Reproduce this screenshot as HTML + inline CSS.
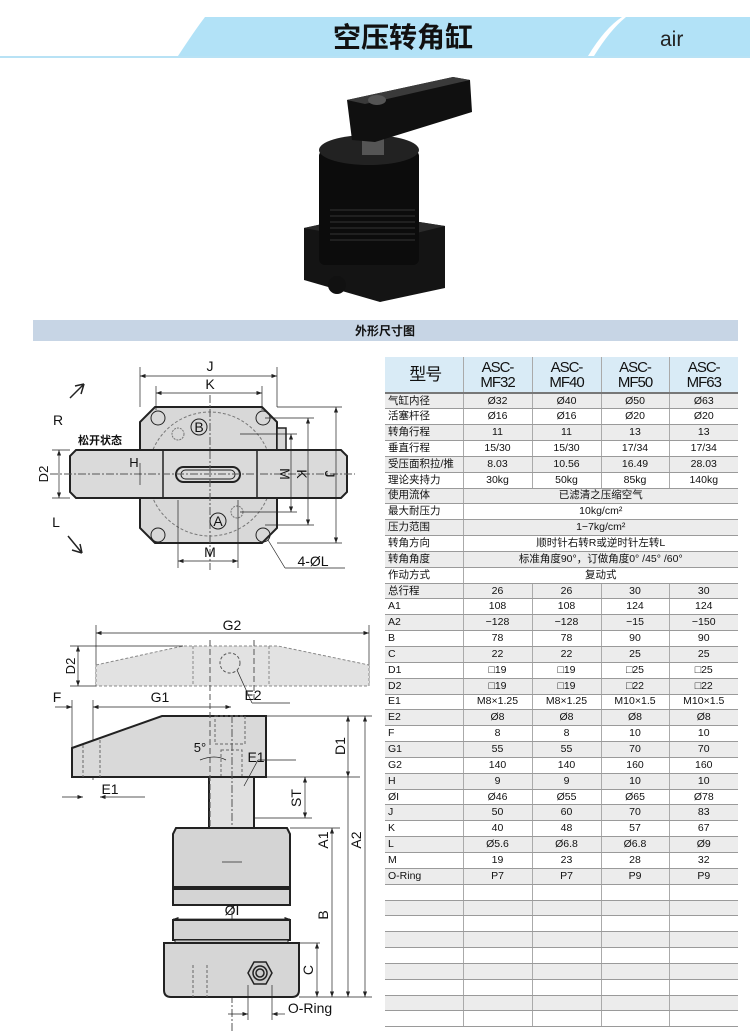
<!DOCTYPE html>
<html><head><meta charset="utf-8"><style>
body{margin:0;width:750px;height:1032px;background:#fff;position:relative;overflow:hidden;font-family:"Liberation Sans","Noto Sans CJK SC",sans-serif}
svg{position:absolute;left:0;top:0}
table{position:absolute;left:385px;top:357px;width:353px;height:670px;border-collapse:collapse;table-layout:fixed}
tr{height:15.85px}
td{padding:0;font-size:10.5px;text-align:center;border-bottom:1px solid #9a9a9a;border-left:1px solid #aaa;line-height:11px;color:#111;white-space:nowrap;overflow:hidden}
td:first-child{text-align:left;border-left:none;padding-left:3px}
tr:nth-child(even) td{background:#ececec}
tr.h{height:36px}
tr.h td{background:#d9ebf6;font-size:15px;line-height:15px;letter-spacing:-1px;border-bottom:2px solid #777}
tr.h td:first-child{text-align:center;font-size:17px}
</style></head><body>
<svg width="750" height="1032" viewBox="0 0 750 1032" font-family="Liberation Sans, Noto Sans CJK SC, sans-serif">
<defs><marker id="a" markerWidth="8" markerHeight="6" refX="8" refY="3" orient="auto-start-reverse"><path d="M0,0 L8,3 L0,6 z" fill="#222"/></marker></defs>
<line x1="0" y1="57" x2="750" y2="57" stroke="#b8e2f5" stroke-width="2"/>
<path d="M178,56 Q195,30 205,17 L750,17 L750,56 Z" fill="#b2e2f7"/>
<path d="M588,56 Q605,28 622,17 L626,17 Q610,30 594,56 Z" fill="#fff"/>
<text x="403" y="47" font-size="28" font-weight="bold" text-anchor="middle" fill="#111">空压转角缸</text>
<text x="660" y="46" font-size="21" fill="#222">air</text>
<g>
<path d="M304,228 L368,214 L445,226 L445,288 L380,302 L304,280 Z" fill="#141414"/>
<path d="M304,228 L368,214 L445,226 L380,242 Z" fill="#2a2a2a"/>
<rect x="319" y="150" width="100" height="115" rx="6" fill="#0c0c0c"/>
<ellipse cx="369" cy="150" rx="50" ry="15" fill="#222"/>
<g stroke="#333" stroke-width="1">
<line x1="330" y1="210" x2="415" y2="210"/><line x1="330" y1="216" x2="415" y2="216"/><line x1="330" y1="222" x2="415" y2="222"/><line x1="330" y1="228" x2="415" y2="228"/><line x1="330" y1="234" x2="415" y2="234"/><line x1="330" y1="240" x2="415" y2="240"/>
</g>
<rect x="362" y="130" width="22" height="25" fill="#555"/>
<path d="M347,100 L453,77 L470,80 L472,112 L375,142 L352,140 Z" fill="#101010"/>
<path d="M347,100 L453,77 L470,80 L365,104 Z" fill="#3a3a3a"/>
<ellipse cx="377" cy="100" rx="9" ry="5" fill="#555"/>
<circle cx="337" cy="285" r="9" fill="#111"/>
</g>
<rect x="33" y="320" width="705" height="21" fill="#c7d5e5"/>
<text x="385" y="335" font-size="12" font-weight="bold" text-anchor="middle" fill="#111">外形尺寸图</text>

<g stroke="#222" fill="none" stroke-width="1">
<path d="M155,407 L262,407 L277,422 L277,528 L262,543 L155,543 L140,528 L140,422 Z" fill="#d8d8d8" stroke-width="2"/>
<rect x="277" y="428" width="9" height="22" fill="#d8d8d8" stroke-width="1.5"/>
<circle cx="210" cy="474" r="62" stroke-dasharray="3,2" stroke="#777"/>
<circle cx="158" cy="418" r="7"/><circle cx="263" cy="418" r="7"/><circle cx="158" cy="535" r="7"/><circle cx="263" cy="535" r="7"/>
<circle cx="178" cy="434" r="6" stroke-dasharray="2,1" stroke="#777"/>
<circle cx="237" cy="512" r="6" stroke-dasharray="2,1" stroke="#777"/>
<path d="M76,450 L341,450 L347,456 L347,492 L341,498 L76,498 L70,492 L70,456 Z" fill="#dadada" stroke-width="2"/>
<line x1="163" y1="450" x2="163" y2="498" stroke-width="1.5"/>
<line x1="257" y1="450" x2="257" y2="498" stroke-width="1.5"/>
<rect x="176" y="467" width="64" height="15" rx="7.5" stroke-width="2"/>
<rect x="181" y="470" width="54" height="9" rx="4.5"/>
<line x1="210" y1="395" x2="210" y2="570" stroke-dasharray="8,2,2,2" stroke="#555"/>
<line x1="50" y1="474" x2="355" y2="474" stroke-dasharray="8,2,2,2" stroke="#555"/>
<line x1="140" y1="367" x2="140" y2="407" stroke-width=".7"/><line x1="277" y1="367" x2="277" y2="407" stroke-width=".7"/>
<line x1="140" y1="376" x2="277" y2="376" stroke-width=".7" marker-start="url(#a)" marker-end="url(#a)"/>
<line x1="156" y1="386" x2="156" y2="410" stroke-width=".7"/><line x1="262" y1="386" x2="262" y2="410" stroke-width=".7"/>
<line x1="156" y1="393" x2="262" y2="393" stroke-width=".7" marker-start="url(#a)" marker-end="url(#a)"/>
<line x1="178" y1="500" x2="178" y2="568" stroke-width=".7"/><line x1="238" y1="500" x2="238" y2="568" stroke-width=".7"/>
<line x1="178" y1="561" x2="238" y2="561" stroke-width=".7" marker-start="url(#a)" marker-end="url(#a)"/>
<line x1="277" y1="407" x2="342" y2="407" stroke-width=".7"/><line x1="277" y1="543" x2="342" y2="543" stroke-width=".7"/>
<line x1="336" y1="407" x2="336" y2="543" stroke-width=".7" marker-start="url(#a)" marker-end="url(#a)"/>
<line x1="265" y1="418" x2="314" y2="418" stroke-width=".7"/><line x1="265" y1="525" x2="314" y2="525" stroke-width=".7"/>
<line x1="308" y1="418" x2="308" y2="525" stroke-width=".7" marker-start="url(#a)" marker-end="url(#a)"/>
<line x1="240" y1="434" x2="297" y2="434" stroke-width=".7"/><line x1="240" y1="512" x2="297" y2="512" stroke-width=".7"/>
<line x1="291" y1="434" x2="291" y2="512" stroke-width=".7" marker-start="url(#a)" marker-end="url(#a)"/>
<line x1="52" y1="450" x2="70" y2="450" stroke-width=".7"/><line x1="52" y1="498" x2="70" y2="498" stroke-width=".7"/>
<line x1="59" y1="450" x2="59" y2="498" stroke-width=".7" marker-start="url(#a)" marker-end="url(#a)"/>
<line x1="140" y1="463" x2="140" y2="485" stroke-width=".7"/>
<line x1="268" y1="540" x2="285" y2="568" stroke-width=".7"/><line x1="285" y1="568" x2="345" y2="568" stroke-width=".7"/>
<path d="M70,398 L84,384 L81,394 M84,384 L75,386" stroke-width="1.5"/>
<path d="M68,536 L82,553 M82,553 L72,550 M82,553 L80,544" stroke-width="1.5"/>
</g>
<g font-size="14" fill="#111" text-anchor="middle">
<text x="210" y="371">J</text><text x="210" y="389">K</text><text x="210" y="557">M</text>
<text x="199" y="432">B</text><circle cx="199" cy="427" r="8" fill="none" stroke="#222"/>
<text x="218" y="526">A</text><circle cx="218" cy="521" r="8" fill="none" stroke="#222"/>
<text x="134" y="467" font-size="13">H</text>
<text x="58" y="425">R</text><text x="56" y="527">L</text>
<text x="100" y="444" font-size="11" font-weight="bold">松开状态</text>
<text x="313" y="566" font-size="14">4-ØL</text>
<text transform="translate(48,474) rotate(-90)" font-size="13">D2</text>
<text transform="translate(280,474) rotate(90)" font-size="14">M</text>
<text transform="translate(297,474) rotate(90)" font-size="14">K</text>
<text transform="translate(325,474) rotate(90)" font-size="14">J</text>
</g>

<g stroke="#222" fill="none" stroke-width="1">
<line x1="96" y1="625" x2="96" y2="686" stroke-width=".7"/><line x1="369" y1="625" x2="369" y2="686" stroke-width=".7"/>
<line x1="96" y1="633" x2="369" y2="633" stroke-width=".7" marker-start="url(#a)" marker-end="url(#a)"/>
<path d="M96,665 L183,646 L278,646 L369,665 L369,686 L96,686 Z" fill="#e2e2e2" stroke="#888" stroke-dasharray="3,2"/>
<line x1="70" y1="646" x2="183" y2="646" stroke-width=".7"/><line x1="70" y1="686" x2="96" y2="686" stroke-width=".7"/>
<line x1="78" y1="646" x2="78" y2="686" stroke-width=".7" marker-start="url(#a)" marker-end="url(#a)"/>
<line x1="193" y1="646" x2="193" y2="686" stroke="#888" stroke-dasharray="3,2"/><line x1="269" y1="646" x2="269" y2="686" stroke="#888" stroke-dasharray="3,2"/>
<circle cx="230" cy="663" r="10" stroke="#555" stroke-dasharray="3,2"/>
<line x1="237" y1="670" x2="252" y2="703" stroke-width=".7"/><line x1="252" y1="703" x2="290" y2="703" stroke-width=".7"/>
<line x1="72" y1="700" x2="72" y2="748" stroke-width=".7"/><line x1="93" y1="700" x2="93" y2="780" stroke-width=".7"/>
<line x1="55" y1="707" x2="72" y2="707" stroke-width=".7" marker-end="url(#a)"/>
<line x1="93" y1="707" x2="231" y2="707" stroke-width=".7" marker-start="url(#a)" marker-end="url(#a)"/>
<path d="M72,748 L162,716 L266,716 L266,777 L72,777 Z" fill="#d9d9d9" stroke-width="2"/>
<line x1="83" y1="745" x2="83" y2="777" stroke="#666" stroke-dasharray="3,2"/><line x1="100" y1="740" x2="100" y2="777" stroke="#666" stroke-dasharray="3,2"/>
<rect x="215" y="716" width="30" height="28" stroke="#666" stroke-dasharray="3,2"/>
<rect x="221" y="750" width="21" height="45" stroke="#666" stroke-dasharray="3,2"/>
<rect x="209" y="777" width="45" height="51" fill="#e0e0e0" stroke-width="2"/>
<line x1="210" y1="640" x2="210" y2="830" stroke="#555" stroke-dasharray="6,3"/>
<line x1="254" y1="640" x2="254" y2="700" stroke="#555" stroke-dasharray="6,3"/>
<line x1="232" y1="715" x2="232" y2="1032" stroke="#555" stroke-dasharray="8,2,2,2"/>
<path d="M176,828 L287,828 L290,834 L290,887 L173,887 L173,834 Z" fill="#d4d4d4" stroke-width="2"/>
<rect x="173" y="889" width="117" height="16" fill="#d4d4d4" stroke-width="2"/>
<rect x="173" y="920" width="117" height="20" fill="#d4d4d4" stroke-width="2"/>
<rect x="175" y="940" width="113" height="3" fill="#ccc"/>
<line x1="173" y1="919" x2="290" y2="919" stroke-width=".7" marker-start="url(#a)" marker-end="url(#a)"/>
<line x1="222" y1="862" x2="242" y2="862" stroke="#555"/>
<path d="M164,943 L299,943 L299,990 Q299,997 292,997 L171,997 Q164,997 164,990 Z" fill="#d6d6d6" stroke-width="2"/>
<path d="M248,973 L254,962 L266,962 L272,973 L266,984 L254,984 Z" fill="#ccc" stroke-width="1.5"/>
<circle cx="260" cy="973" r="7" stroke-width="1.5"/><circle cx="260" cy="973" r="4" stroke-width="1.5"/>
<line x1="193" y1="965" x2="193" y2="997" stroke="#666" stroke-dasharray="3,2"/><line x1="207" y1="965" x2="207" y2="997" stroke="#666" stroke-dasharray="3,2"/>
<line x1="248" y1="985" x2="248" y2="1020" stroke-width=".7"/><line x1="272" y1="985" x2="272" y2="1020" stroke-width=".7"/>
<line x1="228" y1="1014" x2="248" y2="1014" stroke-width=".7" marker-end="url(#a)"/><line x1="272" y1="1014" x2="285" y2="1014" stroke-width=".7" marker-start="url(#a)"/>
<line x1="266" y1="716" x2="372" y2="716" stroke-width=".7"/>
<line x1="266" y1="777" x2="360" y2="777" stroke-width=".7"/>
<line x1="254" y1="818" x2="312" y2="818" stroke-width=".7"/>
<line x1="290" y1="828" x2="340" y2="828" stroke-width=".7"/>
<line x1="299" y1="943" x2="320" y2="943" stroke-width=".7"/>
<line x1="299" y1="997" x2="372" y2="997" stroke-width=".7"/>
<line x1="348" y1="716" x2="348" y2="777" stroke-width=".7" marker-start="url(#a)" marker-end="url(#a)"/>
<line x1="348" y1="777" x2="348" y2="997" stroke-width=".7" marker-end="url(#a)"/>
<line x1="365" y1="716" x2="365" y2="997" stroke-width=".7" marker-start="url(#a)" marker-end="url(#a)"/>
<line x1="332" y1="828" x2="332" y2="997" stroke-width=".7" marker-start="url(#a)" marker-end="url(#a)"/>
<line x1="305" y1="777" x2="305" y2="818" stroke-width=".7" marker-start="url(#a)" marker-end="url(#a)"/>
<line x1="317" y1="943" x2="317" y2="997" stroke-width=".7" marker-start="url(#a)" marker-end="url(#a)"/>
<line x1="258" y1="760" x2="296" y2="760" stroke-width=".7"/><line x1="258" y1="760" x2="244" y2="786" stroke-width=".7"/>
<line x1="62" y1="797" x2="83" y2="797" stroke-width=".7" marker-end="url(#a)"/><line x1="100" y1="797" x2="145" y2="797" stroke-width=".7" marker-start="url(#a)"/>
<path d="M200,760 Q215,754 226,760" stroke-width=".8"/>
</g>
<g font-size="14" fill="#111" text-anchor="middle">
<text x="232" y="630">G2</text>
<text x="253" y="700">E2</text>
<text x="57" y="702">F</text><text x="160" y="702">G1</text>
<text x="200" y="752" font-size="13">5°</text>
<text x="256" y="762">E1</text>
<text x="110" y="794">E1</text>
<text x="232" y="915">ØI</text>
<text x="310" y="1013">O-Ring</text>
<text transform="translate(75,666) rotate(-90)" font-size="13">D2</text>
<text transform="translate(345,746) rotate(-90)">D1</text>
<text transform="translate(301,798) rotate(-90)">ST</text>
<text transform="translate(328,840) rotate(-90)">A1</text>
<text transform="translate(361,840) rotate(-90)">A2</text>
<text transform="translate(328,915) rotate(-90)">B</text>
<text transform="translate(313,970) rotate(-90)">C</text>
</g>
</svg>
<table>
<colgroup><col style="width:78px"><col style="width:69px"><col style="width:69px"><col style="width:68px"><col style="width:69px"></colgroup>
<tr class="h"><td>型号</td><td>ASC-<br>MF32</td><td>ASC-<br>MF40</td><td>ASC-<br>MF50</td><td>ASC-<br>MF63</td></tr>
<tr><td>气缸内径</td><td>Ø32</td><td>Ø40</td><td>Ø50</td><td>Ø63</td></tr>
<tr><td>活塞杆径</td><td>Ø16</td><td>Ø16</td><td>Ø20</td><td>Ø20</td></tr>
<tr><td>转角行程</td><td>11</td><td>11</td><td>13</td><td>13</td></tr>
<tr><td>垂直行程</td><td>15/30</td><td>15/30</td><td>17/34</td><td>17/34</td></tr>
<tr><td>受压面积拉/推</td><td>8.03</td><td>10.56</td><td>16.49</td><td>28.03</td></tr>
<tr><td>理论夹持力</td><td>30kg</td><td>50kg</td><td>85kg</td><td>140kg</td></tr>
<tr><td>使用流体</td><td colspan="4">已滤清之压缩空气</td></tr>
<tr><td>最大耐压力</td><td colspan="4">10kg/cm²</td></tr>
<tr><td>压力范围</td><td colspan="4">1−7kg/cm²</td></tr>
<tr><td>转角方向</td><td colspan="4">顺时针右转R或逆时针左转L</td></tr>
<tr><td>转角角度</td><td colspan="4">标准角度90°，订做角度0° /45° /60°</td></tr>
<tr><td>作动方式</td><td colspan="4">复动式</td></tr>
<tr><td>总行程</td><td>26</td><td>26</td><td>30</td><td>30</td></tr>
<tr><td>A1</td><td>108</td><td>108</td><td>124</td><td>124</td></tr>
<tr><td>A2</td><td>−128</td><td>−128</td><td>−15</td><td>−150</td></tr>
<tr><td>B</td><td>78</td><td>78</td><td>90</td><td>90</td></tr>
<tr><td>C</td><td>22</td><td>22</td><td>25</td><td>25</td></tr>
<tr><td>D1</td><td>□19</td><td>□19</td><td>□25</td><td>□25</td></tr>
<tr><td>D2</td><td>□19</td><td>□19</td><td>□22</td><td>□22</td></tr>
<tr><td>E1</td><td>M8×1.25</td><td>M8×1.25</td><td>M10×1.5</td><td>M10×1.5</td></tr>
<tr><td>E2</td><td>Ø8</td><td>Ø8</td><td>Ø8</td><td>Ø8</td></tr>
<tr><td>F</td><td>8</td><td>8</td><td>10</td><td>10</td></tr>
<tr><td>G1</td><td>55</td><td>55</td><td>70</td><td>70</td></tr>
<tr><td>G2</td><td>140</td><td>140</td><td>160</td><td>160</td></tr>
<tr><td>H</td><td>9</td><td>9</td><td>10</td><td>10</td></tr>
<tr><td>ØI</td><td>Ø46</td><td>Ø55</td><td>Ø65</td><td>Ø78</td></tr>
<tr><td>J</td><td>50</td><td>60</td><td>70</td><td>83</td></tr>
<tr><td>K</td><td>40</td><td>48</td><td>57</td><td>67</td></tr>
<tr><td>L</td><td>Ø5.6</td><td>Ø6.8</td><td>Ø6.8</td><td>Ø9</td></tr>
<tr><td>M</td><td>19</td><td>23</td><td>28</td><td>32</td></tr>
<tr><td>O-Ring</td><td>P7</td><td>P7</td><td>P9</td><td>P9</td></tr>
<tr><td></td><td></td><td></td><td></td><td></td></tr>
<tr><td></td><td></td><td></td><td></td><td></td></tr>
<tr><td></td><td></td><td></td><td></td><td></td></tr>
<tr><td></td><td></td><td></td><td></td><td></td></tr>
<tr><td></td><td></td><td></td><td></td><td></td></tr>
<tr><td></td><td></td><td></td><td></td><td></td></tr>
<tr><td></td><td></td><td></td><td></td><td></td></tr>
<tr><td></td><td></td><td></td><td></td><td></td></tr>
<tr><td></td><td></td><td></td><td></td><td></td></tr>
</table>
</body></html>
